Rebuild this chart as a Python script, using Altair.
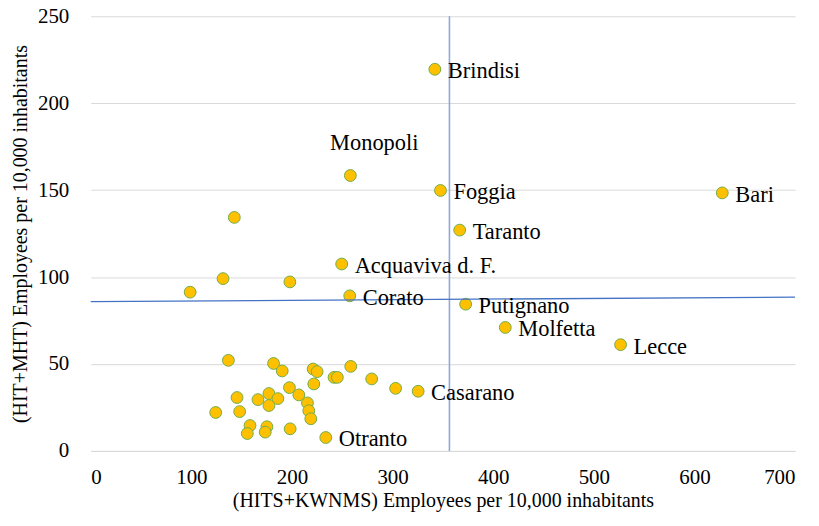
import altair as alt
import pandas as pd

# Labelled municipalities
label_names = ["Brindisi", "Foggia", "Bari", "Taranto", "Acquaviva d. F.", "Corato",
               "Putignano", "Molfetta", "Lecce", "Casarano", "Otranto"]
label_x = [342.0, 347.6, 627.7, 366.7, 249.4, 257.4, 372.6, 412.0, 526.6, 325.4, 233.6]
label_y = [219.5, 149.8, 148.4, 127.0, 107.5, 89.2, 84.4, 71.0, 61.1, 34.3, 7.7]

# Monopoli (label placed above the point)
mono_name = ["Monopoli"]
mono_x = [258.0]
mono_y = [158.4]

# Unlabelled municipalities
other_x = [142.7, 131.5, 98.8, 197.9, 303.0,
           136.8, 181.7, 190.3, 221.0, 225.0, 258.4, 241.8, 245.1, 279.2, 221.7,
           197.5, 206.8, 145.4, 166.2, 177.1, 186.0, 177.1, 124.2, 148.0, 215.4,
           216.7, 218.7, 158.3, 155.6, 175.1, 173.4, 198.2]
other_y = [134.3, 99.1, 91.3, 97.2, 36.0,
           52.1, 50.3, 46.0, 47.1, 45.6, 48.6, 42.3, 42.3, 41.4, 38.5,
           36.4, 32.2, 30.7, 29.5, 33.0, 30.1, 26.1, 22.1, 22.6, 27.6,
           23.1, 18.5, 14.6, 10.0, 13.9, 10.8, 12.7]

# Reference lines
vline_x = [356.5]
vline_y = [0]
vline_y2 = [250]
hline_x = [0, 700]
hline_y = [85.9, 88.4]

FONT = "Liberation Serif, Times New Roman, serif"
x_title = "(HITS+KWNMS) Employees per 10,000 inhabitants"
y_title = "(HIT+MHT) Employees per 10,000 inhabitants"

xs = alt.Scale(domain=[0, 700], nice=False, zero=False)
ys = alt.Scale(domain=[0, 250], nice=False, zero=False)

pts = pd.DataFrame({
    "x": label_x + mono_x + other_x,
    "y": label_y + mono_y + other_y,
})
lab = pd.DataFrame({"x": label_x, "y": label_y, "name": label_names})
mono = pd.DataFrame({"x": mono_x, "y": mono_y, "name": mono_name})
vl = pd.DataFrame({"x": vline_x, "y": vline_y, "y2": vline_y2})
hl = pd.DataFrame({"x": hline_x, "y": hline_y})

xenc = alt.X("x:Q", scale=xs, title=x_title,
             axis=alt.Axis(values=[0, 100, 200, 300, 400, 500, 600, 700], grid=False,
                           domain=True, domainColor="#d9d9d9", domainWidth=1,
                           ticks=False, labelPadding=16, titlePadding=3))
yenc = alt.Y("y:Q", scale=ys, title=y_title,
             axis=alt.Axis(values=[0, 50, 100, 150, 200, 250], grid=True,
                           gridColor="#d9d9d9", gridWidth=1, domain=False,
                           ticks=False, labelPadding=22, titlePadding=7))

vrule = alt.Chart(vl).mark_rule(color="#8EA9DB", strokeWidth=1.6).encode(
    x=alt.X("x:Q", scale=xs), y=alt.Y("y:Q", scale=ys), y2="y2:Q")
hline = alt.Chart(hl).mark_line(color="#4472C4", strokeWidth=1.3).encode(
    x=alt.X("x:Q", scale=xs), y=alt.Y("y:Q", scale=ys))

points = alt.Chart(pts).mark_point(
    filled=True, fill="#FFC000", stroke="#70AD47", strokeWidth=1,
    size=140, opacity=1, shape="circle").encode(x=xenc, y=yenc)

labels = alt.Chart(lab).mark_text(
    align="left", baseline="middle", dx=13, dy=2, font=FONT, fontSize=22.5, color="black"
).encode(x=alt.X("x:Q", scale=xs), y=alt.Y("y:Q", scale=ys), text="name:N")

mono_label = alt.Chart(mono).mark_text(
    align="center", baseline="middle", dx=24, dy=-33, font=FONT, fontSize=22.5, color="black"
).encode(x=alt.X("x:Q", scale=xs), y=alt.Y("y:Q", scale=ys), text="name:N")

chart = alt.layer(points, vrule, hline, labels, mono_label).properties(
    width=706.5, height=436,
    autosize=alt.AutoSizeParams(type="none"),
    padding={"left": 83, "top": 7.5, "right": 16, "bottom": 62},
).configure_view(stroke=None).configure_axis(
    labelFont=FONT, labelFontSize=21, labelColor="black",
    titleFont=FONT, titleFontSize=20, titleFontWeight="normal", titleColor="black",
)

chart.save("out.html", embed_options={"renderer": "svg", "actions": False})
